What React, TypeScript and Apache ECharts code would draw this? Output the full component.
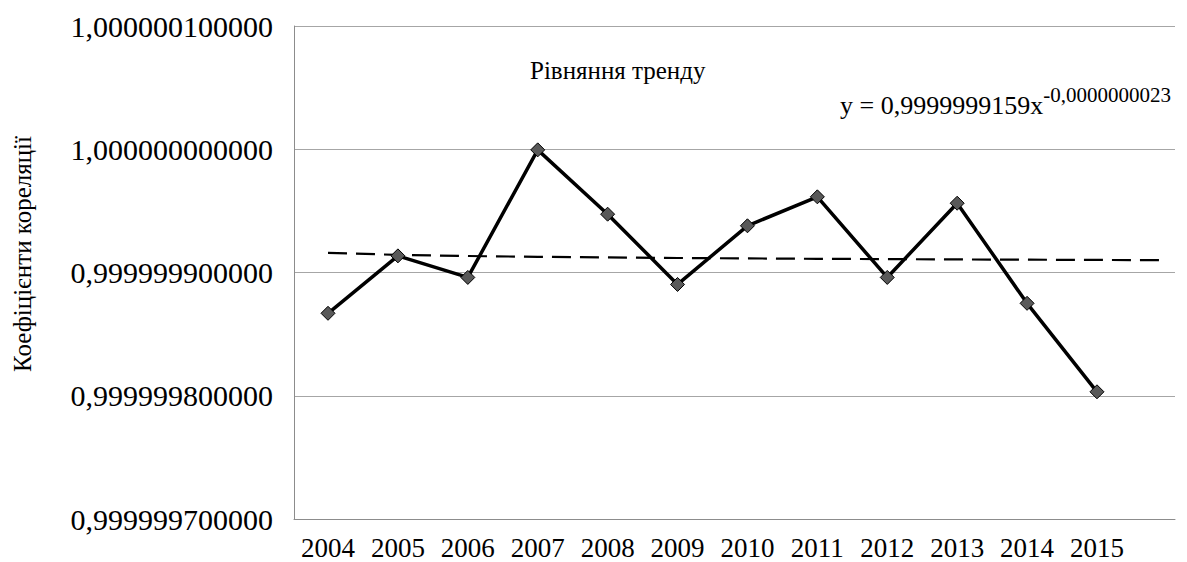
import React, { useEffect, useRef } from "react";
import * as echarts from "echarts";

const years = ["2004", "2005", "2006", "2007", "2008", "2009", "2010", "2011", "2012", "2013", "2014", "2015"];
const coefficients = [
  0.9999998669, 0.9999999135, 0.999999896, 0.9999999995, 0.9999999473, 0.9999998903,
  0.9999999379, 0.9999999614, 0.999999896, 0.9999999562, 0.999999875, 0.9999998032,
];
// Power trend shown on the chart: y = a * x^b
const trendA = 0.9999999159;
const trendB = -0.0000000023;
const trendXs = [1, 2, 3, 4, 5, 6, 7, 8, 9, 10, 11, 12, 13];
const yTicks = { min: 0.9999997, max: 1.0000001, step: 0.0000001 };
const titleText = "Рівняння тренду";
const equationText = "y = 0,9999999159x";
const exponentText = "-0,0000000023";
const yAxisName = "Коефіцієнти кореляції";

const FONT = "Liberation Serif";

export default function App() {
  const ref = useRef<HTMLDivElement>(null);
  useEffect(() => {
    if (!ref.current) return;
    const chart = echarts.init(ref.current, undefined, { renderer: "svg" });
    const mainData = coefficients.map((v, i) => [i + 1, v]);
    const trendData = trendXs.map((x) => [x, trendA * Math.pow(x, trendB)]);
    chart.setOption({
      animation: false,
      backgroundColor: "#fff",
      textStyle: { fontFamily: FONT, color: "#000" },
      grid: { left: 294, right: 12, top: 26, bottom: 43, outerBoundsMode: "none", containLabel: false },
      xAxis: {
        type: "value",
        min: 0.5136,
        max: 13.116,
        axisLine: { show: true, lineStyle: { color: "#8c8c8c", width: 1 } },
        axisTick: { show: false },
        splitLine: { show: false },
        axisLabel: {
          customValues: years.map((_, i) => i + 1),
          formatter: (v: number) => years[Math.round(v) - 1] ?? "",
          fontFamily: FONT,
          fontSize: 27,
          color: "#000",
          margin: 15,
        },
      },
      yAxis: {
        type: "value",
        min: yTicks.min,
        max: yTicks.max,
        interval: yTicks.step,
        axisLine: { show: true, lineStyle: { color: "#8c8c8c", width: 1 } },
        axisTick: { show: false },
        splitLine: { show: true, lineStyle: { color: "#a6a6a6", width: 1 } },
        axisLabel: {
          formatter: (v: number) => v.toFixed(12).replace(".", ","),
          fontFamily: FONT,
          fontSize: 30,
          color: "#000",
          margin: 21,
        },
      },
      series: [
        {
          type: "line",
          data: trendData,
          symbol: "none",
          z: 1,
          lineStyle: { color: "#000", width: 2.2, type: [19, 9] },
        },
        {
          type: "line",
          data: mainData,
          symbol: "diamond",
          symbolSize: 14,
          z: 3,
          lineStyle: { color: "#000", width: 3.5 },
          itemStyle: { color: "#595959", borderColor: "#000", borderWidth: 1 },
        },
      ],
      graphic: [
        {
          type: "text",
          x: 22,
          y: 254,
          rotation: Math.PI / 2,
          style: {
            text: yAxisName,
            fontFamily: FONT,
            fontSize: 25,
            fill: "#000",
            align: "center",
            verticalAlign: "middle",
          },
        },
        {
          type: "text",
          left: 530,
          top: 58,
          style: { text: titleText, fontFamily: FONT, fontSize: 25, fill: "#000" },
        },
        {
          type: "text",
          left: 840,
          top: 84,
          style: {
            text: `{a|${equationText}}{b|${exponentText}}`,
            fill: "#000",
            fontFamily: FONT,
            rich: {
              a: { fontFamily: FONT, fontSize: 26, lineHeight: 34, verticalAlign: "bottom", fill: "#000" },
              b: { fontFamily: FONT, fontSize: 21, lineHeight: 21, verticalAlign: "top", fill: "#000" },
            },
          },
        },
      ],
    });
    return () => chart.dispose();
  }, []);
  return <div ref={ref} style={{ position: "fixed", left: 0, top: 0, width: 1187, height: 562 }} />;
}
